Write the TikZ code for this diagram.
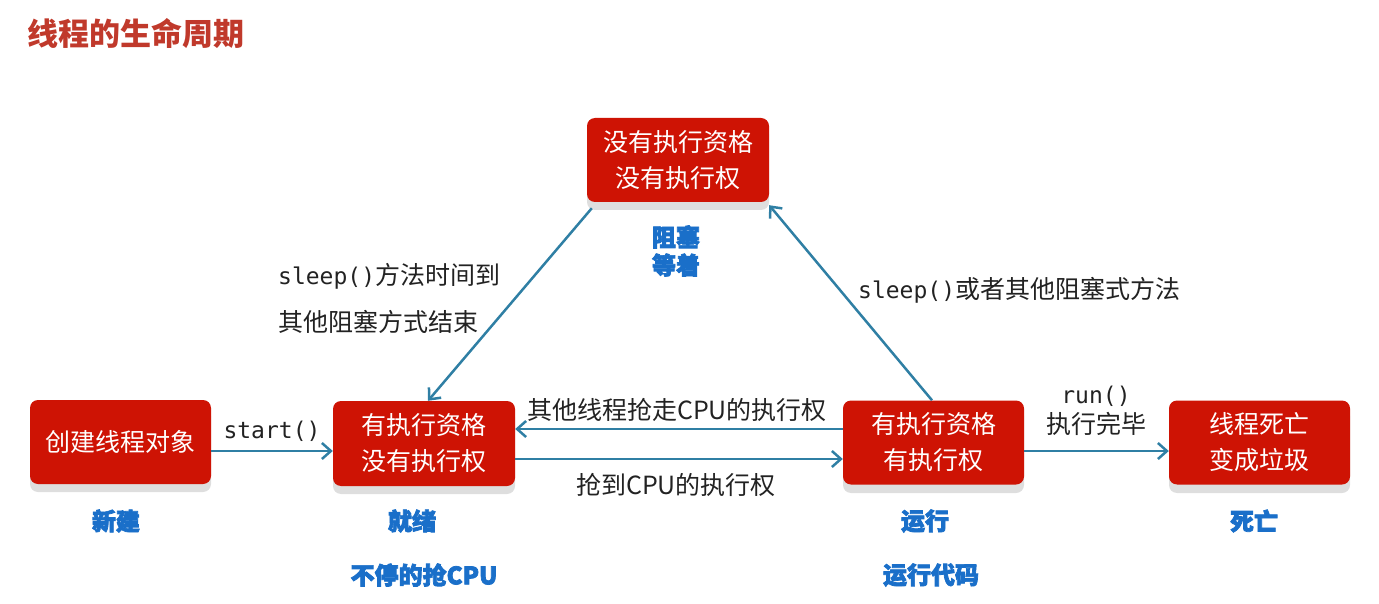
\documentclass[tikz,border=0pt]{standalone}
\usepackage{fontspec}
\setmainfont{Noto Sans CJK SC}
\newfontfamily\cjk{Noto Sans CJK SC}
\newfontfamily\cjkheavy{Noto Sans CJK SC}[FakeBold=3]
\newfontfamily\monof{DejaVu Sans Mono}
\usetikzlibrary{arrows.meta}
\definecolor{boxred}{HTML}{CE1304}
\definecolor{shadowgray}{HTML}{DEDEDE}
\definecolor{arrowteal}{HTML}{2F7FA4}
\definecolor{titlered}{HTML}{C0392B}
\definecolor{stateblue}{HTML}{1A6FC9}
\definecolor{labelgray}{HTML}{222222}
\tikzset{
  statebox/.style={fill=boxred, text=white, rounded corners=8pt, minimum width=181pt, minimum height=84pt,
    inner sep=0pt, align=center, font=\cjk\fontsize{25}{36}\selectfont},
  boxshadow/.style={fill=shadowgray, rounded corners=8pt},
  flow/.style={draw=arrowteal, line width=2.5pt, -{Straight Barb[length=9pt,width=16pt,line width=2.5pt]}},
  lbl/.style={text=labelgray, inner sep=0pt, font=\cjk\fontsize{25}{30}\selectfont},
  mono/.style={text=labelgray, inner sep=0pt, font=\monof\fontsize{23}{28}\selectfont},
  statename/.style={text=stateblue, inner sep=0pt, align=center, font=\cjkheavy\bfseries\fontsize{24}{28}\selectfont},
}
\begin{document}
\begin{tikzpicture}[x=1pt,y=-1pt]
\useasboundingbox (0,0) rectangle (1379,604);
% title
\node[text=titlered, anchor=west, inner sep=0pt, font=\cjk\bfseries\fontsize{31}{34}\selectfont] (title) at (27,33) {线程的生命周期};
% shadows
\fill[boxshadow] (30,408) rectangle (211,492);
\fill[boxshadow] (333,409) rectangle (515,494);
\fill[boxshadow] (843,408) rectangle (1024,493);
\fill[boxshadow] (1169,408) rectangle (1350,493);
\fill[boxshadow] (587,126) rectangle (769,210);
% boxes
\node[statebox] (new) at (120.5,442) {创建线程对象};
\node[statebox, minimum width=182pt, minimum height=85pt] (ready) at (424,443.5) {\raisebox{-2pt}{\parbox{170pt}{\centering 有执行资格\\没有执行权}}};
\node[statebox] (run) at (933.5,442.5) {\raisebox{-2pt}{\parbox{170pt}{\centering 有执行资格\\有执行权}}};
\node[statebox] (dead) at (1259.5,442.5) {\raisebox{-2pt}{\parbox{170pt}{\centering 线程死亡\\变成垃圾}}};
\node[statebox, minimum width=182pt] (block) at (678,160) {\raisebox{-2pt}{\parbox{170pt}{\centering 没有执行资格\\没有执行权}}};
% state names
\node[statename] (nNew) at (116,521) {新建};
\node[statename] (nReady) at (412,521) {就绪};
\node[statename] (nRun) at (925,521) {运行};
\node[statename] (nDead) at (1254,521) {死亡};
\node[statename] (nReady2) at (424,575) {不停的抢CPU};
\node[statename] (nRun2) at (931,575) {运行代码};
\node[statename] (nBlock) at (676,251) {阻塞\\等着};
% arrows
\draw[flow] ([yshift=-9pt]new.east) -- ([yshift=-7.5pt]ready.west);
\draw[flow] ([yshift=-15.5pt]ready.east) -- ([yshift=-16.5pt]run.west);
\draw[flow] ([yshift=13.5pt]run.west) -- ([yshift=14.5pt]ready.east);
\draw[flow] ([yshift=-8.5pt]run.east) -- ([yshift=-8.5pt]dead.west);
\draw[flow] ([xshift=5pt,yshift=-6pt]block.south west) -- ([xshift=4pt]ready.north);
\draw[flow] ([xshift=-1.5pt]run.north) -- ([yshift=-3pt]block.south east);
% labels
\node[mono] (lStart) at (272,431) {start()};
\node[lbl] (lSteal) at (677,410) {其他线程抢走CPU的执行权};
\node[lbl] (lGet) at (676,485) {抢到CPU的执行权};
\node[mono] (lRun) at (1096,396) {run()};
\node[lbl] (lDone) at (1096,424) {执行完毕};
\node[lbl, anchor=west] (lWake1) at (278,276) {{\monof\fontsize{23}{28}\selectfont sleep()}方法时间到};
\node[lbl, anchor=west] (lWake2) at (278,322) {其他阻塞方式结束};
\node[lbl, anchor=west] (lSleep) at (858,290) {{\monof\fontsize{23}{28}\selectfont sleep()}或者其他阻塞式方法};
\end{tikzpicture}
\end{document}
